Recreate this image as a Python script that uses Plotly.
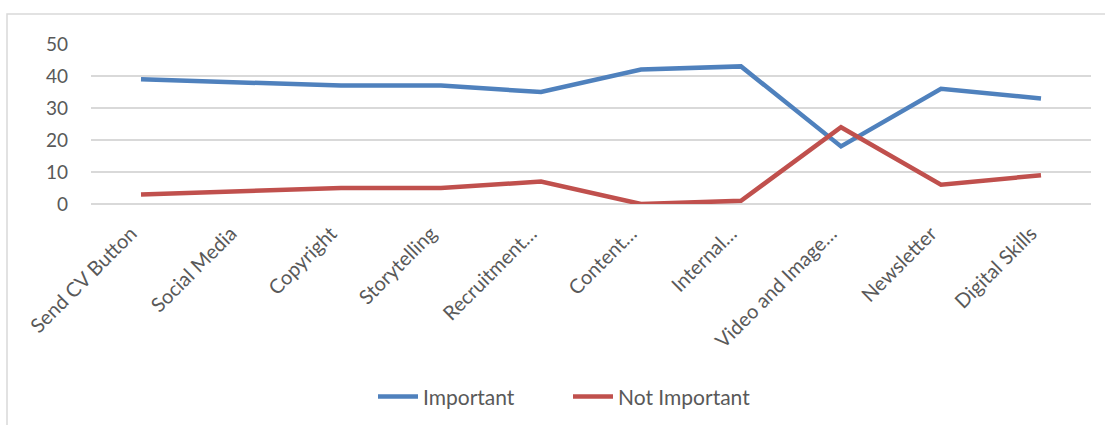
import plotly.graph_objects as go

categories = ["Send CV Button", "Social Media", "Copyright", "Storytelling", "Recruitment…",
              "Content…", "Internal…", "Video and Image…", "Newsletter", "Digital Skills"]
important = [39, 38, 37, 37, 35, 42, 43, 18, 36, 33]
not_important = [3, 4, 5, 5, 7, 0, 1, 24, 6, 9]
y_ticks = [0, 10, 20, 30, 40, 50]

FONT = "Lato, 'Open Sans', sans-serif"
GRAY = "#595959"

fig = go.Figure()
fig.add_trace(go.Scatter(x=categories, y=important, mode="lines", name="Important",
                         line=dict(color="#4F81BD", width=4.5)))
fig.add_trace(go.Scatter(x=categories, y=not_important, mode="lines", name="Not Important",
                         line=dict(color="#C0504D", width=4.5)))

fig.update_layout(
    width=1105, height=425,
    margin=dict(l=91, r=14, t=44, b=221, autoexpand=False),
    paper_bgcolor="white", plot_bgcolor="white",
    font=dict(family=FONT, color=GRAY, size=18),
    showlegend=True,
    legend=dict(orientation="h", x=0.477, xanchor="center", y=-1.206, yanchor="middle",
                font=dict(size=21, color=GRAY), itemwidth=40, entrywidth=140,
                tracegroupgap=0),
    xaxis=dict(type="category", range=[-0.5, 9.5], tickangle=-45, showgrid=False,
               showline=False, ticks="", tickfont=dict(size=20, color=GRAY),
               ticklabelstandoff=13, ticklabelshift=-10, automargin=False),
    yaxis=dict(range=[0, 50], tickvals=y_ticks, showgrid=True, gridcolor="#D9D9D9",
               gridwidth=1.5, zeroline=True, zerolinecolor="#D9D9D9", zerolinewidth=1.5,
               showline=False, ticks="", tickfont=dict(size=19, color=GRAY),
               ticklabelstandoff=22, automargin=False),
    shapes=[dict(type="rect", xref="paper", yref="paper",
                 x0=-0.084, x1=1.03, y0=-1.45, y1=1.1875,
                 line=dict(color="#D9D9D9", width=1.5), fillcolor="rgba(0,0,0,0)", layer="below")],
)

fig.write_html("out.html")
